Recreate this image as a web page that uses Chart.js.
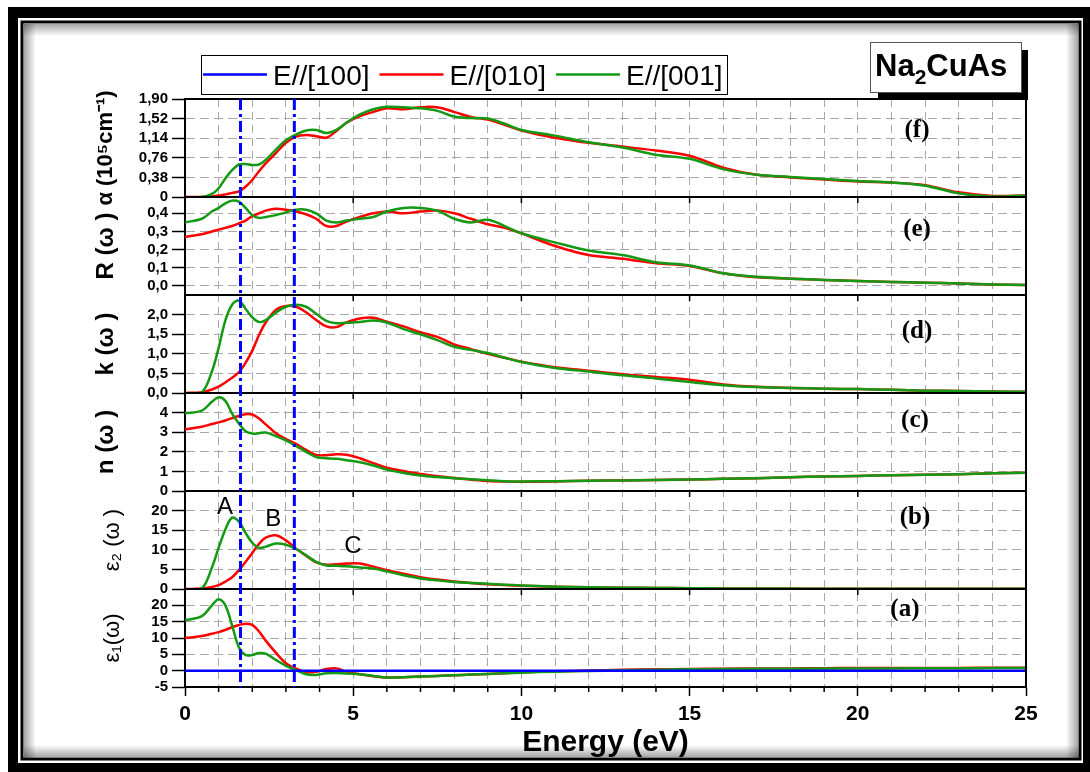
<!DOCTYPE html>
<html>
<head>
<meta charset="utf-8">
<script src="https://cdn.jsdelivr.net/npm/chart.js@4.4.0/dist/chart.umd.min.js"></script>
<style>
  html, body { margin: 0; padding: 0; background: #fff; }
  #chart { display: block; }
</style>
</head>
<body>
<canvas id="chart" width="1090" height="772"></canvas>
<script>
// photon energy grid (eV) shared by every curve
const energy = [0, 0.5, 0.8,
  1.0, 1.2, 1.4, 1.6, 1.8, 2.0, 2.2, 2.4,
  2.7, 3.0, 3.3, 3.6, 3.9, 4.2, 4.5, 4.8,
  5.2, 5.6, 6.0,
  6.5, 7.0, 7.5, 8.0, 8.5, 9.0, 9.5,
  10, 11, 12, 13, 14, 15, 16, 17, 18, 19, 20, 21, 22, 23, 24, 25];

const seriesLabels = ['E//[100]', 'E//[010]', 'E//[001]'];
const seriesColors = ['#0000ff', '#ff0000', '#139913'];

// (f) absorption alpha (10^5 cm-1)
const alphaRed = [0, 0, 0.01,
  0.03, 0.05, 0.08, 0.11, 0.2, 0.33, 0.5, 0.65,
  0.85, 1.05, 1.17, 1.20, 1.18, 1.15, 1.28, 1.44,
  1.57, 1.65, 1.72,
  1.70, 1.74, 1.74, 1.65, 1.55, 1.50, 1.40,
  1.29, 1.15, 1.05, 0.98, 0.90, 0.80, 0.57, 0.43, 0.38, 0.34, 0.30, 0.28, 0.23, 0.09, 0.02, 0.03];
const alphaGreen = [0, 0, 0.06,
  0.17, 0.36, 0.52, 0.63, 0.64, 0.62, 0.63, 0.72,
  0.92, 1.10, 1.21, 1.29, 1.30, 1.24, 1.30, 1.44,
  1.60, 1.70, 1.75,
  1.74, 1.72, 1.67, 1.56, 1.53, 1.52, 1.42,
  1.30, 1.19, 1.06, 0.96, 0.82, 0.74, 0.54, 0.43, 0.39, 0.35, 0.31, 0.28, 0.22, 0.07, 0.01, 0.03];

// (e) reflectivity
const rRed = [0.27, 0.285, 0.30,
  0.31, 0.32, 0.33, 0.345, 0.36, 0.385, 0.40, 0.415,
  0.425, 0.42, 0.41, 0.395, 0.37, 0.33, 0.33, 0.355,
  0.38, 0.40, 0.41,
  0.40, 0.41, 0.415, 0.40, 0.37, 0.34, 0.32,
  0.29, 0.22, 0.17, 0.15, 0.125, 0.11, 0.07, 0.048, 0.04, 0.033, 0.027, 0.022, 0.018, 0.013, 0.008, 0.005];
const rGreen = [0.35, 0.37, 0.41,
  0.43, 0.455, 0.47, 0.465, 0.43, 0.39, 0.375, 0.38,
  0.39, 0.405, 0.42, 0.42, 0.40, 0.36, 0.35, 0.36,
  0.37, 0.38, 0.41,
  0.43, 0.43, 0.415, 0.37, 0.35, 0.365, 0.33,
  0.29, 0.24, 0.195, 0.17, 0.13, 0.113, 0.07, 0.05, 0.04, 0.033, 0.027, 0.022, 0.018, 0.013, 0.008, 0.005];

// (d) extinction coefficient
const kRed = [0, 0.02, 0.09,
  0.16, 0.27, 0.39, 0.53, 0.77, 1.08, 1.48, 1.8,
  2.12, 2.22, 2.2, 2.06, 1.86, 1.7, 1.68, 1.8,
  1.9, 1.92, 1.82,
  1.7, 1.55, 1.43, 1.24, 1.12, 1.0, 0.9,
  0.8, 0.66, 0.57, 0.48, 0.41, 0.34, 0.22, 0.16, 0.13, 0.11, 0.1, 0.08, 0.06, 0.05, 0.04, 0.03];
const kGreen = [0, 0.02, 0.55,
  1.15, 1.85, 2.25, 2.36, 2.15, 1.93, 1.81, 1.86,
  2.05, 2.2, 2.25, 2.2, 2.02, 1.84, 1.78, 1.79,
  1.81, 1.85, 1.8,
  1.63, 1.5, 1.35, 1.18, 1.1, 1.02, 0.9,
  0.79, 0.64, 0.55, 0.45, 0.37, 0.28, 0.2, 0.15, 0.13, 0.11, 0.1, 0.08, 0.06, 0.05, 0.04, 0.03];

// (c) refractive index
const nRed = [3.15, 3.28, 3.42,
  3.5, 3.6, 3.72, 3.83, 3.92, 3.9, 3.7, 3.4,
  2.95, 2.65, 2.4, 2.1, 1.84, 1.83, 1.87, 1.85,
  1.67, 1.42, 1.19,
  1.02, 0.87, 0.76, 0.66, 0.58, 0.51, 0.48,
  0.47, 0.49, 0.52, 0.54, 0.56, 0.59, 0.62, 0.65, 0.7, 0.74, 0.77, 0.8, 0.83, 0.86, 0.9, 0.93];
const nGreen = [3.96, 4.1, 4.55,
  4.78, 4.6, 3.95, 3.45, 3.05, 2.93, 2.95, 2.98,
  2.8, 2.58, 2.3, 2.0, 1.73, 1.67, 1.64, 1.57,
  1.47, 1.3, 1.09,
  0.92, 0.79, 0.71, 0.65, 0.6, 0.55, 0.5,
  0.49, 0.5, 0.52, 0.54, 0.56, 0.59, 0.62, 0.65, 0.7, 0.74, 0.77, 0.8, 0.83, 0.86, 0.9, 0.93];

// (b) imaginary part of the dielectric function
const eps2Red = [0, 0.1, 0.5,
  1.0, 1.9, 3.0, 4.8, 6.9, 9.2, 11.5, 13.1,
  13.7, 12.4, 10.3, 8.5, 6.8, 6.2, 6.3, 6.5,
  6.5, 5.7, 4.8,
  3.9, 3.0, 2.4, 1.9, 1.5, 1.2, 1.0,
  0.85, 0.6, 0.45, 0.35, 0.28, 0.22, 0.15, 0.12, 0.1, 0.08, 0.07, 0.06, 0.05, 0.05, 0.04, 0.04];
const eps2Green = [0, 0.2, 5.5,
  10.5, 15.2, 18.2, 17.2, 14.3, 11.8, 10.5, 10.8,
  11.6, 11.3, 10.2, 8.6, 6.9, 6.0, 5.9, 5.8,
  5.5, 5.2, 4.5,
  3.5, 2.7, 2.2, 1.8, 1.55, 1.35, 1.1,
  0.9, 0.6, 0.45, 0.35, 0.28, 0.22, 0.15, 0.12, 0.1, 0.08, 0.07, 0.06, 0.05, 0.05, 0.04, 0.04];

// (a) real part of the dielectric function
const eps1Red = [10.0, 10.6, 11.3,
  11.8, 12.5, 13.3, 14.0, 14.4, 14.0, 12.0, 9.2,
  5.5, 2.3, 0.6, -0.4, -0.3, 0.5, 0.7, -0.3,
  -1.1, -1.7, -2.1,
  -2.0, -1.8, -1.6, -1.4, -1.2, -1.0, -0.8,
  -0.5, -0.2, 0.05, 0.25, 0.4, 0.5, 0.6, 0.65, 0.7, 0.75, 0.8, 0.8, 0.85, 0.85, 0.9, 0.9];
const eps1Green = [15.4, 16.7, 20.0,
  21.9, 20.0, 13.8, 7.2, 4.8, 4.8, 5.4, 5.2,
  3.3, 1.5, 0.2, -1.1, -1.3, -0.8, -0.7, -0.9,
  -1.1, -1.6, -2.1,
  -2.0, -1.8, -1.6, -1.4, -1.2, -1.0, -0.8,
  -0.6, -0.3, -0.1, 0.1, 0.3, 0.4, 0.5, 0.55, 0.6, 0.65, 0.7, 0.7, 0.75, 0.75, 0.8, 0.8];
const blueEnergy = [0, 25];
const eps1Blue = [0, 0];

// tick labels
const xTickLabels = [0, 5, 10, 15, 20, 25];
const alphaTickLabels = ['0', '0,38', '0,76', '1,14', '1,52', '1,90'];
const rTickLabels = ['0,0', '0,1', '0,2', '0,3', '0,4'];
const kTickLabels = ['0,0', '0,5', '1,0', '1,5', '2,0'];
const nTickLabels = ['0', '1', '2', '3', '4'];
const eps2TickLabels = ['0', '5', '10', '15', '20'];
const eps1TickLabels = ['-5', '0', '5', '10', '15', '20'];

// energies of the two dash-dot guide lines
const markerEnergies = [1.65, 3.25];

const SANS = "'Liberation Sans', Arial, sans-serif";
const SERIF = "'Liberation Serif', 'Times New Roman', serif";

// bottom panel first: stacked axes defined later sit higher
const panels = [
  { id: 'ya', title: 'ε₁(ω)', labels: eps1TickLabels, min: -5, max: 25, red: eps1Red, green: eps1Green,
    tag: '(a)', tagAt: [21.4, 18.6], titleFont: { family: SANS, size: 22 }, titlePad: 16 },
  { id: 'yb', title: 'ε₂ (ω )', labels: eps2TickLabels, min: 0, max: 25, red: eps2Red, green: eps2Green,
    tag: '(b)', tagAt: [21.7, 18.2], titleFont: { family: SANS, size: 22 }, titlePad: 16 },
  { id: 'yc', title: 'n (ω )', labels: nTickLabels, min: 0, max: 5, red: nRed, green: nGreen,
    tag: '(c)', tagAt: [21.7, 3.62], titleFont: { family: SANS, size: 24, weight: 'bold' }, titlePad: 8 },
  { id: 'yd', title: 'k (ω )', labels: kTickLabels, min: 0, max: 2.5, red: kRed, green: kGreen,
    tag: '(d)', tagAt: [21.76, 1.56], titleFont: { family: SANS, size: 24, weight: 'bold' }, titlePad: 8 },
  { id: 'ye', title: 'R (ω )', labels: rTickLabels, min: -0.05, max: 0.49, red: rRed, green: rGreen,
    tag: '(e)', tagAt: [21.76, 0.31], titleFont: { family: SANS, size: 24, weight: 'bold' }, titlePad: 8 },
  { id: 'yf', title: 'α (10⁵cm⁻¹)', labels: alphaTickLabels, min: 0, max: 1.9, red: alphaRed, green: alphaGreen,
    tag: '(f)', tagAt: [21.76, 1.28], titleFont: { family: SANS, size: 22, weight: 'bold' }, titlePad: 9 }
];

// peak letters in the eps2 panel
const peakNotes = [
  { text: 'A', e: 1.19, v: 20.8 },
  { text: 'B', e: 2.62, v: 17.7 },
  { text: 'C', e: 4.99, v: 10.8 }
];

const toNum = s => parseFloat(String(s).replace(',', '.'));
const toPoints = (xs, ys) => xs.map((x, i) => ({ x: x, y: ys[i] }));

const lineStyle = { borderWidth: 2.5, pointRadius: 0, fill: false, tension: 0.35 };

const datasets = [];
panels.forEach(p => {
  datasets.push(Object.assign({ label: seriesLabels[2], data: toPoints(energy, p.green),
    borderColor: seriesColors[2], yAxisID: p.id, order: 1 }, lineStyle));
  datasets.push(Object.assign({ label: seriesLabels[1], data: toPoints(energy, p.red),
    borderColor: seriesColors[1], yAxisID: p.id, order: 2 }, lineStyle));
});
datasets.push(Object.assign({ label: seriesLabels[0], data: toPoints(blueEnergy, eps1Blue),
  borderColor: seriesColors[0], yAxisID: 'ya', order: 0 }, lineStyle));

const scales = {
  x: {
    type: 'linear', position: 'bottom', min: 0, max: 25,
    ticks: {
      stepSize: 1, autoSkip: false, maxRotation: 0, padding: 6, color: '#000',
      font: { family: SANS, size: 21, weight: 'bold' },
      callback: v => xTickLabels.includes(v) ? String(v) : ''
    },
    grid: {
      color: '#a8a8a8', lineWidth: 1, drawTicks: true, tickLength: 9, tickWidth: 1.5,
      tickColor: c => (c.tick && xTickLabels.includes(c.tick.value)) ? '#000' : 'rgba(0,0,0,0)'
    },
    border: { display: true, color: '#000', width: 2, dash: [8, 5] },
    title: { display: true, text: 'Energy (eV)', color: '#000',
      font: { family: SANS, size: 30, weight: 'bold' }, padding: { top: 0, bottom: 0 } },
    afterFit: s => { s.height = 74; }
  }
};

panels.forEach(p => {
  scales[p.id] = {
    type: 'linear', position: 'left', stack: 'panels', stackWeight: 1, offset: false,
    min: p.min, max: p.max,
    afterBuildTicks: s => { s.ticks = p.labels.map(l => ({ value: toNum(l) })); },
    afterFit: s => { s.width = 101; },
    ticks: {
      autoSkip: false, padding: 4, color: '#000',
      font: { family: SANS, size: 15, weight: 'bold' },
      callback: (v, i) => p.labels[i]
    },
    grid: { color: '#a8a8a8', lineWidth: 1, drawTicks: true, tickLength: 13, tickWidth: 1.5, tickColor: '#000' },
    border: { display: true, color: '#000', width: 2, dash: [9, 5] },
    title: { display: true, text: p.title, color: '#000', font: p.titleFont,
      padding: { top: p.titlePad, bottom: 0 } }
  };
});

const decor = {
  id: 'decor',
  beforeDraw(chart) {
    const ctx = chart.ctx;
    const W = chart.width, H = chart.height;
    ctx.save();
    ctx.fillStyle = '#fff';
    ctx.fillRect(0, 0, W, H);
    // heavy outer frame, thin inner frame
    ctx.fillStyle = '#000';
    ctx.fillRect(8, 7, W - 8, H - 7);
    ctx.fillStyle = '#fff';
    ctx.fillRect(18, 18, 1065, 745);
    ctx.strokeStyle = '#000';
    ctx.lineWidth = 3;
    ctx.strokeRect(22, 22, 1058, 737);
    // soft shading along the inside of the frame
    const shade = (x0, y0, x1, y1, rx, ry, rw, rh) => {
      const g = ctx.createLinearGradient(x0, y0, x1, y1);
      g.addColorStop(0, 'rgba(0,0,0,0.35)');
      g.addColorStop(1, 'rgba(0,0,0,0)');
      ctx.fillStyle = g;
      ctx.fillRect(rx, ry, rw, rh);
    };
    shade(24, 0, 36, 0, 24, 24, 12, 734);
    shade(0, 24, 0, 36, 24, 24, 1055, 12);
    shade(1078, 0, 1066, 0, 1066, 24, 12, 734);
    shade(0, 757, 0, 745, 24, 745, 1055, 12);
    ctx.restore();
  },
  afterDatasetsDraw(chart) {
    const ctx = chart.ctx;
    const area = chart.chartArea;
    const xs = chart.scales.x;
    ctx.save();

    // panel frames
    ctx.strokeStyle = '#000';
    ctx.lineWidth = 2;
    ctx.beginPath();
    panels.forEach(p => {
      const y = chart.scales[p.id].top;
      ctx.moveTo(area.left, y);
      ctx.lineTo(area.right, y);
    });
    ctx.moveTo(area.right, area.top);
    ctx.lineTo(area.right, area.bottom);
    ctx.stroke();

    // small inner ticks on panel tops and minor ticks below the energy axis
    ctx.lineWidth = 1.5;
    ctx.beginPath();
    panels.forEach(p => {
      if (p.id === 'yf') return;
      const y = chart.scales[p.id].top;
      [5, 10, 15, 20].forEach(e => {
        const x = xs.getPixelForValue(e);
        ctx.moveTo(x, y);
        ctx.lineTo(x, y + 6);
      });
    });
    for (let e = 1; e < 25; e++) {
      if (xTickLabels.includes(e)) continue;
      const x = xs.getPixelForValue(e);
      ctx.moveTo(x, area.bottom);
      ctx.lineTo(x, area.bottom + 5);
    }
    ctx.stroke();

    // dash-dot guide lines
    ctx.strokeStyle = seriesColors[0];
    ctx.lineWidth = 3;
    ctx.setLineDash([11, 4, 3, 4]);
    ctx.beginPath();
    markerEnergies.forEach(e => {
      const x = xs.getPixelForValue(e);
      ctx.moveTo(x, area.top);
      ctx.lineTo(x, area.bottom);
    });
    ctx.stroke();
    ctx.setLineDash([]);

    // panel tags
    ctx.fillStyle = '#000';
    ctx.textAlign = 'center';
    ctx.textBaseline = 'middle';
    ctx.font = "bold 25px " + SERIF;
    panels.forEach(p => {
      ctx.fillText(p.tag, xs.getPixelForValue(p.tagAt[0]), chart.scales[p.id].getPixelForValue(p.tagAt[1]));
    });

    // peak letters
    ctx.font = "24px " + SANS;
    peakNotes.forEach(n => {
      ctx.fillText(n.text, xs.getPixelForValue(n.e), chart.scales.yb.getPixelForValue(n.v));
    });

    // legend
    ctx.textAlign = 'left';
    ctx.textBaseline = 'alphabetic';
    ctx.font = "28px " + SANS;
    ctx.fillStyle = '#fff';
    ctx.fillRect(201, 55, 526, 39);
    ctx.strokeStyle = '#000';
    ctx.lineWidth = 1;
    ctx.strokeRect(201.5, 55.5, 526, 39);
    let lx = 203;
    seriesLabels.forEach((lab, i) => {
      ctx.strokeStyle = seriesColors[i];
      ctx.lineWidth = 2.5;
      ctx.beginPath();
      ctx.moveTo(lx, 74.5);
      ctx.lineTo(lx + 64, 74.5);
      ctx.stroke();
      ctx.fillStyle = '#000';
      ctx.fillText(lab, lx + 70, 85);
      lx += 70 + ctx.measureText(lab).width + 10;
    });

    // compound box with shadow
    ctx.fillStyle = '#000';
    ctx.fillRect(878, 50, 150, 50);
    ctx.fillStyle = '#fff';
    ctx.fillRect(870, 42, 151, 50);
    ctx.strokeStyle = '#555';
    ctx.lineWidth = 1;
    ctx.strokeRect(870.5, 42.5, 151, 50);
    ctx.fillStyle = '#000';
    let tx = 875;
    ctx.font = "bold 31px " + SANS;
    ctx.fillText('Na', tx, 76);
    tx += ctx.measureText('Na').width;
    ctx.font = "bold 21px " + SANS;
    ctx.fillText('2', tx, 84);
    tx += ctx.measureText('2').width;
    ctx.font = "bold 31px " + SANS;
    ctx.fillText('CuAs', tx, 76);

    ctx.restore();
  }
};

new Chart(document.getElementById('chart').getContext('2d'), {
  type: 'line',
  data: { datasets: datasets },
  options: {
    responsive: false,
    animation: false,
    devicePixelRatio: 1,
    layout: { padding: { left: 84, right: 64, top: 99, bottom: 11 } },
    plugins: { legend: { display: false }, tooltip: { enabled: false } },
    scales: scales
  },
  plugins: [decor]
});
</script>
</body>
</html>
